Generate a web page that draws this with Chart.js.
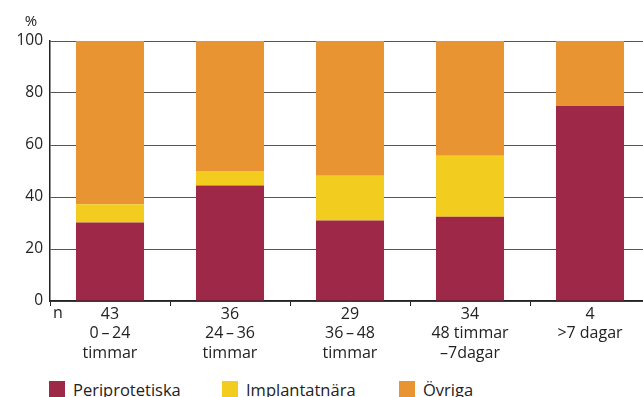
<!DOCTYPE html>
<html lang="sv">
<head>
<meta charset="utf-8">
<script src="https://cdn.jsdelivr.net/npm/chart.js@4/dist/chart.umd.min.js"></script>
<style>
  html, body { margin: 0; padding: 0; background: #fff; overflow: hidden; }
  body { width: 643px; height: 397px; position: relative; font-family: "Open Sans", sans-serif; }
  #wrap { position: absolute; left: 0; top: 0; width: 660px; height: 370px; }
  #legend { position: absolute; left: 0; top: 381px; width: 643px; height: 20px; font-size: 16.5px; color: #222; }
  .item { position: absolute; top: 0; display: flex; align-items: center; height: 16px; }
  .sw { width: 16px; height: 16px; margin-right: 8px; flex: none; }
</style>
</head>
<body>
<div id="wrap"><canvas id="c"></canvas></div>
<div id="legend"></div>
<script>
// Antal fall per tidsintervall och intervallens namn
const nValues = ["43", "36", "29", "34", "4"];
const intervals = [
  ["0\u2009–\u200924", "timmar"],
  ["24\u2009–\u200936", "timmar"],
  ["36\u2009–\u200948", "timmar"],
  ["48 timmar", "–7dagar"],
  [">7 dagar"]
];
// Andel (%) per typ av infektion
const periprotetiska = [30.2, 44.4, 31.0, 32.4, 75.0];
const implantatnara  = [7.0, 5.6, 17.2, 23.5, 0.0];
const ovriga         = [62.8, 50.0, 51.8, 44.1, 25.0];
const yTicks = [0, 20, 40, 60, 80, 100];

const seriesNames = ["Periprotetiska", "Implantatnära", "Övriga"];
const seriesColors = ["#9d2847", "#f2cd1f", "#e99433"];

const labels = nValues.map((n, i) => [n, ...intervals[i]]);
const FONT = "'Open Sans', sans-serif";

// Extra text: "%" above the y axis and "n" in front of the counts row
const extraText = {
  id: "extraText",
  afterDraw(chart) {
    const ctx = chart.ctx;
    const area = chart.chartArea;
    ctx.save();
    ctx.fillStyle = "#222";
    ctx.font = "15px " + FONT;
    ctx.textBaseline = "middle";
    ctx.textAlign = "center";
    ctx.fillText("%", 31, area.top - 19);
    ctx.font = "16px " + FONT;
    ctx.textAlign = "left";
    ctx.fillText("n", area.left + 3, area.bottom + 12);
    ctx.restore();
  }
};

new Chart(document.getElementById("c"), {
  type: "bar",
  data: {
    labels: labels,
    datasets: [
      { label: seriesNames[0], data: periprotetiska, backgroundColor: seriesColors[0] },
      { label: seriesNames[1], data: implantatnara, backgroundColor: seriesColors[1] },
      { label: seriesNames[2], data: ovriga, backgroundColor: seriesColors[2] }
    ]
  },
  plugins: [extraText],
  options: {
    responsive: true,
    maintainAspectRatio: false,
    animation: false,
    datasets: { bar: { barPercentage: 0.567, categoryPercentage: 1.0 } },
    layout: { padding: { left: 0, top: 41, right: 10, bottom: 0 } },
    plugins: { legend: { display: false }, tooltip: { enabled: false } },
    scales: {
      x: {
        stacked: true,
        afterFit(scale) { scale.height = 69; },
        border: { display: true, color: "#222", width: 1.5 },
        grid: { offset: true, drawOnChartArea: false, drawTicks: true, tickLength: 5, color: "#222", lineWidth: 1 },
        ticks: {
          color: "#222",
          padding: -1,
          maxRotation: 0,
          autoSkip: false,
          font: { family: FONT, size: 16, lineHeight: 1.2 }
        }
      },
      y: {
        stacked: true,
        min: 0,
        max: 100,
        afterFit(scale) { scale.width = 50; },
        afterBuildTicks(scale) { scale.ticks = yTicks.map(v => ({ value: v })); },
        border: { display: true, color: "#222", width: 1.5 },
        grid: { drawTicks: false, color: "#555", lineWidth: 1 },
        ticks: {
          color: "#222",
          padding: 7,
          font: { family: FONT, size: 15.5 }
        }
      }
    }
  }
});

// Legend row below the chart
const legendX = [49, 222, 399];
const legend = document.getElementById("legend");
seriesNames.forEach((name, i) => {
  const item = document.createElement("div");
  item.className = "item";
  item.style.left = legendX[i] + "px";
  const sw = document.createElement("span");
  sw.className = "sw";
  sw.style.background = seriesColors[i];
  const tx = document.createElement("span");
  tx.textContent = name;
  item.appendChild(sw);
  item.appendChild(tx);
  legend.appendChild(item);
});
</script>
</body>
</html>
